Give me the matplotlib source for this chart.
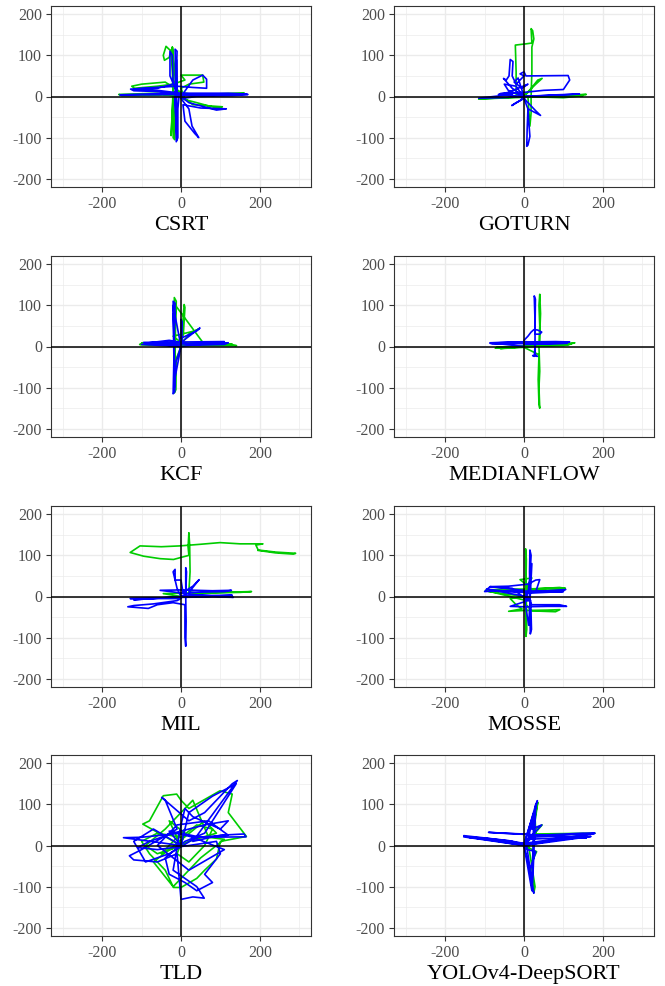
import matplotlib
matplotlib.use("Agg")
import matplotlib.pyplot as plt

plt.rcParams['font.family'] = ['Liberation Serif', 'DejaVu Serif']
plt.rcParams['axes.unicode_minus'] = False

# ---------------- data ----------------
titles = ["CSRT", "GOTURN", "KCF", "MEDIANFLOW", "MIL", "MOSSE", "TLD", "YOLOv4-DeepSORT"]
x_ticks = [-200, 0, 200]
y_ticks = [-200, -100, 0, 100, 200]

csrt_green_x = [0, -20, -22, -25, -38, -45, -42, -30, -22, -18, -20, -18, -20, -16, -15, -12, -60, -158, -150, -60, -10, 60, 160, 150, 40, 0, -40, -100, -125, -118, -60, -20, 10, 0, 55, 58, 20, 0, 10, 30, 60, 105, 90, 40, 0, -20, -22, -18, -25, -20]
csrt_green_y = [0, 5, 60, 110, 122, 100, 88, 95, 120, 80, 20, -40, -100, -105, -60, 0, 8, 5, 2, 3, 5, 5, 9, 4, 3, 10, 35, 30, 25, 20, 25, 30, 40, 52, 52, 35, 30, 20, -5, -20, -22, -25, -28, -15, -5, 40, 120, 60, -95, 0]
csrt_blue_x = [0, -15, -14, -15, -10, -12, -14, -12, -8, -8, -5, -28, -28, -22, -20, -60, -128, -120, -60, -20, -155, -80, 0, 100, 170, 130, 40, 0, 20, 28, 45, 35, 10, 5, 50, 115, 90, 20, 0, 30, 55, 65, 65, 30, -10, -100, -120, -60, 0, 120, 165, 80, -10, -12, -10, -16]
csrt_blue_y = [0, 5, 60, 115, 110, 40, -20, -110, -100, -30, 0, 50, 110, 100, 30, 20, 18, 14, 12, 8, 4, 4, 5, 5, 5, 2, 0, -5, -30, -72, -100, -90, -60, -20, -28, -30, -33, -15, 0, 40, 52, 42, 20, 22, 25, 20, 18, 15, 8, 8, 6, 3, 2, 90, -105, 0]

goturn_green_x = [0, -20, -20, -22, 5, 20, 18, 22, 25, 20, 20, 18, 18, 15, 12, 10, -115, -60, 0, 100, 158, 120, 40, 0, 30, 46, 35, 10, 0, 100, 150, 60, 0]
goturn_green_y = [0, 5, 60, 125, 128, 130, 165, 160, 140, 120, 60, 0, -40, -72, -30, 0, -6, -4, -2, 2, 5, 3, 0, 2, 30, 44, 40, 10, 0, -3, 2, 0, 0]
goturn_blue_x = [0, -30, -52, -45, -38, -35, -28, -30, -20, 0, -10, 0, 5, 112, 116, 100, 50, 0, -60, -30, -115, -60, 0, 80, 141, 100, 0, -10, -31, -20, 0, 10, 8, 7, 10, 15, 12, 10, 42, 30, 5, -20, -50, -40, 0, -15, -25, -5, 10, -40, -65, 0]
goturn_blue_y = [0, 20, 44, 40, 50, 90, 85, 50, 30, 50, 55, 60, 50, 51, 40, 17, 15, 10, 7, 5, -4, -3, 0, 4, 6, 4, 0, -10, -22, -15, -5, -30, -80, -121, -118, -97, -60, -30, -46, -35, -10, 25, 30, 15, 0, 45, 35, 20, 30, 10, 5, 0]

kcf_green_x = [0, -15, -16, -17, -12, -14, -15, -17, -13, -12, 0, 8, 10, 6, 0, -105, -60, 0, 80, 141, 120, 40, 0, 20, 46, 35, -20, 0, -100, 0, 130, 60, -14, -18, -16]
kcf_green_y = [0, 5, 60, 119, 110, 40, -20, -113, -105, -30, 0, 102, 95, 30, 5, 5, 3, 2, 2, 2, 6, 8, 5, 30, 43, 38, 25, 10, 8, 10, 6, 4, 100, -100, 0]
kcf_blue_x = [0, -18, -18, -20, -15, -17, -18, -20, -16, -14, 0, -100, -70, 0, 60, 120, 110, 30, 0, 48, 40, 0, 0, 3, 2, -30, -90, 0, -20, -17, -19, -16, 0, 110, -95, 0]
kcf_blue_y = [0, 5, 60, 110, 105, 30, -30, -115, -110, -40, 0, 5, 8, 6, 8, 9, 5, 3, 10, 45, 38, 20, 66, 60, 10, 15, 8, 0, 100, -100, 80, -80, 0, 12, 10, 0]

medianflow_green_x = [0, -73, -40, 20, 80, 129, 110, 40, 40, 42, 40, 38, 40, 38, 40, 38, 40, 38, 36, 38, 0, -60, 0, 100, 120, 40, -70, 0]
medianflow_green_y = [0, -4, -3, 0, 5, 9, 4, 2, 30, 80, 127, 100, 50, 0, -60, -100, -150, -140, -80, -20, -2, -5, 0, 2, 6, 3, -2, 0]
medianflow_blue_x = [0, -86, -60, 0, 80, 116, 100, 40, 0, 0, 10, 18, 25, 35, 45, 40, 28, 28, 26, 29, 28, 28, 26, 22, 34, 28, 28, -40, -86, -80, 0, 110, 60, 0]
medianflow_blue_y = [0, 9, 10, 11, 12, 11, 8, 9, 12, 15, 25, 35, 41, 40, 35, 30, 30, 60, 123, 115, 40, 0, -24, -22, -24, -18, 10, 10, 8, 6, 7, 8, 6, 5]

mil_green_x = [0, -45, 0, 100, 179, 150, 40, 20, 23, 22, 20, 18, 20, 0, -19, -53, -95, -129, -104, -50, -3, 50, 99, 150, 208, 190, 196, 240, 291, 285, 240, 196]
mil_green_y = [0, 7, 8, 10, 12, 10, 8, 12, 60, 125, 155, 120, 100, 95, 90, 92, 98, 107, 123, 121, 123, 127, 131, 128, 128, 125, 113, 108, 105, 103, 106, 112]
mil_blue_x = [0, 12, 12, 12, 14, 12, 13, 12, 10, 10, -20, -60, -83, -135, -120, -70, -10, 0, -129, -80, 0, 80, 133, 100, 30, -53, 0, 80, 128, 110, 20, 46, 30, 5, 0, -15, -15, -20, -10, 0, -120, -40, 60, 130, 0]
mil_blue_y = [0, 5, 40, 70, 60, 0, -60, -121, -100, -20, -15, -20, -29, -25, -22, -18, -10, -5, -5, -4, -2, -1, -2, 0, 5, 15, 16, 14, 15, 12, 10, 41, 25, 10, 40, 40, 66, 60, 20, 0, -8, -3, 0, 3, 2]

mosse_green_x = [0, 5, 4, 6, 5, 4, 5, 7, 6, -98, -60, 0, 60, 105, 90, 20, -10, 20, 10, 5, -35, -20, -5, -39, 0, 60, 91, 80, 20, 5, 0, -90, 0, 100, 20]
mosse_green_y = [0, 20, 116, 90, 30, -40, -97, -80, -10, 15, 18, 18, 20, 20, 22, 18, 41, 45, 30, 0, -5, -20, -30, -36, -34, -33, -32, -37, -35, -20, 0, 12, 15, 16, 10]
mosse_blue_x = [0, 15, 14, 15, 18, 15, 15, 16, 19, 17, 0, -86, -100, -60, 0, 60, 106, 95, 30, 40, 30, 10, -40, -86, -30, 10, -35, 0, 60, 108, 90, 20, 5, -95, -20, 100, 10, 20, 12, 0]
mosse_blue_y = [0, 10, 60, 113, 100, 40, -20, -91, -80, -10, 15, 24, 12, 14, 13, 14, 17, 12, 12, 41, 40, 30, 25, 24, 20, -10, -24, -25, -24, -24, -20, -20, 0, 18, 10, 12, 8, 80, -70, 0]

tld_green_x = [0, -97, -80, -45, -11, 0, 20, 99, 130, 120, 166, 100, 90, 60, 40, 0, -19, -40, -80, -100, -60, 0, 40, 80, 60, 20, -10, 10, -30, 0, -60, -90, -40, 30, 70, 110, 50, -20, -70, -30, 60, 90, 20, -50, 10, 0]
tld_green_y = [0, 52, 60, 121, 125, 110, 90, 133, 125, 80, 22, 10, -33, -60, -80, -102, -102, -60, -20, 10, 30, 20, 50, 40, 0, -40, -20, 30, 60, 0, -20, 0, 40, 110, 20, 15, -30, -100, -40, -10, 60, 30, 10, -20, 40, 0]
tld_blue_x = [0, -146, -100, -50, 0, 50, 165, 160, 100, 30, 143, 130, 60, 20, -49, -40, -10, -100, -131, -120, -60, -10, 0, 30, 59, 40, -20, 0, 10, 30, 100, 120, 60, -20, -80, -110, -60, 20, 90, 100, 60, 80, 40, 10, -30, -40, 10, 60, 140, 80, 20, 0, -70, -120, -90, -30, 40, 120, 70, -10, -60, 20, 110, 30, -30, 0]
tld_blue_y = [0, 19, 20, 25, 30, 20, 21, 28, 25, 10, 158, 150, 80, 60, 117, 110, 40, -10, -25, -35, -40, -20, -131, -125, -128, -100, -60, 50, 90, 70, 40, 60, 50, 30, 10, -5, -10, 0, 10, -20, -70, -90, -110, -90, -70, -30, 10, 30, 150, 120, 80, 0, 40, 10, -40, -20, 20, 25, 60, 50, 0, -60, -10, 20, 35, 0]

yolo_green_x = [0, -150, 0, 180, 30, 28, 35, 25, 46, 10, 28, 25, 20, 32, 0]
yolo_green_y = [0, 22, 2, 30, 28, 70, 105, 40, 50, 10, -100, -115, -40, -15, 0]
yolo_blue_x = [0, -153, -100, -30, 0, 179, 150, 40, -90, -60, 0, 30, 158, 120, 10, 34, 30, 20, 45, 30, 5, 25, 20, 15, 30, 10, 0, -153, -40, 0, 150, 180, 20, 0, 30, 22, 0, 170, 100, 0, -140, 0, 25, 20, 0]
yolo_blue_y = [0, 21, 18, 10, 0, 29, 30, 25, 32, 30, 28, 25, 18, 20, 15, 109, 100, 40, 50, 35, 10, -116, -100, -60, -15, -10, 0, 24, 12, 5, 25, 30, 20, 0, 100, -90, 0, 22, 15, 2, 20, 5, 80, -110, 0]

green_series = [(csrt_green_x, csrt_green_y), (goturn_green_x, goturn_green_y),
                (kcf_green_x, kcf_green_y), (medianflow_green_x, medianflow_green_y),
                (mil_green_x, mil_green_y), (mosse_green_x, mosse_green_y),
                (tld_green_x, tld_green_y), (yolo_green_x, yolo_green_y)]
blue_series = [(csrt_blue_x, csrt_blue_y), (goturn_blue_x, goturn_blue_y),
               (kcf_blue_x, kcf_blue_y), (medianflow_blue_x, medianflow_blue_y),
               (mil_blue_x, mil_blue_y), (mosse_blue_x, mosse_blue_y),
               (tld_blue_x, tld_blue_y), (yolo_blue_x, yolo_blue_y)]

# ---------------- layout ----------------
W, H = 665, 986
fig = plt.figure(figsize=(W / 100, H / 100), dpi=100)
lefts = [51, 394]
tops = [6, 256, 506, 755]
pw, ph = 260, 181

for i, title in enumerate(titles):
    r, c = divmod(i, 2)
    ax = fig.add_axes([lefts[c] / W, 1 - (tops[r] + ph) / H, pw / W, ph / H])
    ax.set_xlim(-330, 330)
    ax.set_ylim(-220, 220)
    ax.set_xticks(x_ticks)
    ax.set_yticks(y_ticks)
    ax.set_xticks([-300, -100, 100, 300], minor=True)
    ax.set_yticks([-150, -50, 50, 150], minor=True)
    ax.set_axisbelow(True)
    ax.grid(which='major', color='#EBEBEB', lw=1.0)
    ax.grid(which='minor', color='#EBEBEB', lw=0.5)
    ax.tick_params(which='minor', length=0)
    ax.tick_params(which='major', length=3.5, width=0.8, color='#333333',
                   labelcolor='#4D4D4D', labelsize=11.5, pad=3)
    for s in ax.spines.values():
        s.set_color('#333333')
        s.set_linewidth(0.8)
    gx, gy = green_series[i]
    bx, by = blue_series[i]
    ax.plot(gx, gy, color='#00CC00', lw=1.2, zorder=2, solid_joinstyle='round')
    ax.plot(bx, by, color='#0000FF', lw=1.2, zorder=2.1, solid_joinstyle='round')
    ax.axhline(0, color='black', lw=1.1, zorder=3)
    ax.axvline(0, color='black', lw=1.1, zorder=3)
    ax.set_xlabel(title, fontsize=16, color='black', labelpad=3)

fig.savefig('out.png', dpi=100)
